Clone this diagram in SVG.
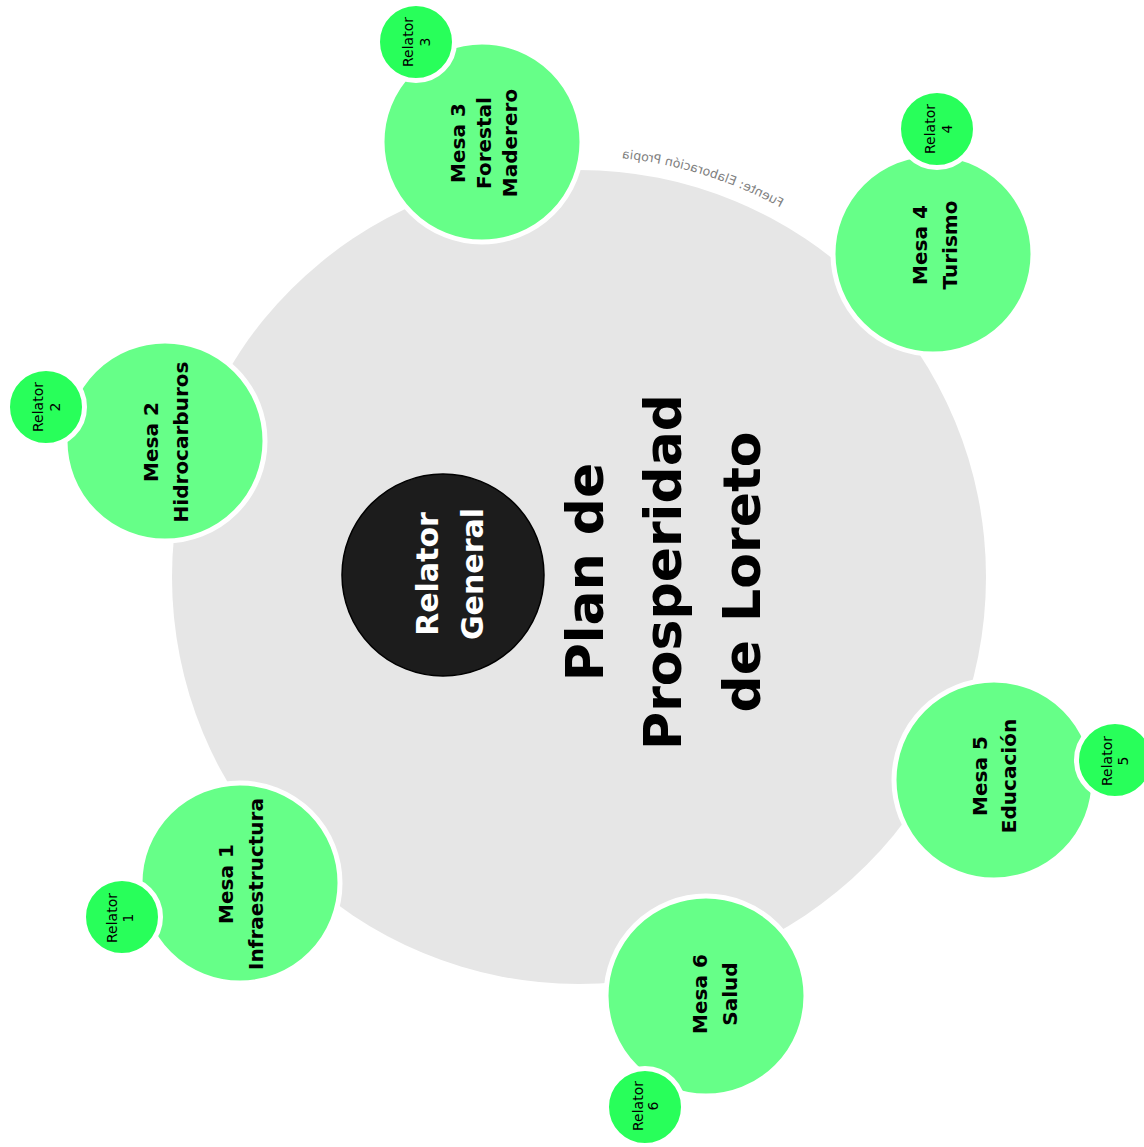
<svg xmlns="http://www.w3.org/2000/svg" width="1144" height="1147" viewBox="0 0 1144 1147">
<style>
.bg{fill:#e6e6e6}
.mesa{fill:#66ff88;stroke:#ffffff;stroke-width:5}
.rel{fill:#28ff5a;stroke:#ffffff;stroke-width:5}
.mt{font-family:"DejaVu Sans",sans-serif;font-weight:bold;font-size:20px;fill:#000;text-anchor:middle}
.rt{font-family:"DejaVu Sans",sans-serif;font-size:14px;fill:#000;text-anchor:middle}
.title{font-family:"DejaVu Sans",sans-serif;font-weight:bold;font-size:52px;fill:#000;text-anchor:middle}
.gt{font-family:"DejaVu Sans",sans-serif;font-weight:bold;font-size:30px;fill:#fff;text-anchor:middle}
.src{font-family:"DejaVu Sans",sans-serif;font-size:12.5px;fill:#808080}
</style>
<defs>
<path id="srcArc" d="M 377.5 207.4 A 421 421 0 0 1 652.1 162.4" fill="none"/>
</defs>
<rect width="1144" height="1147" fill="#ffffff"/>
<g id="plan">
<circle class="bg" cx="579" cy="577" r="407"/>
<text class="title" transform="translate(681,572) rotate(-90)"><tspan x="0" y="-78">Plan de</tspan><tspan x="0" y="0">Prosperidad</tspan><tspan x="0" y="79">de Loreto</tspan></text>
</g>
<g id="fuente" transform="translate(1158,0) scale(-1,1)">
<text class="src"><textPath href="#srcArc">Fuente: Elaboración Propia</textPath></text>
</g>
<g id="connectors"/>
<g id="relator-general">
<circle cx="443" cy="575" r="101" fill="#1c1c1c" stroke="#000" stroke-width="1.5"/>
<text class="gt" transform="translate(443,574) rotate(-90)"><tspan x="0" y="-5">Relator</tspan><tspan x="0" y="40">General</tspan></text>
</g>
<g id="mesa1">
<circle class="mesa" cx="240" cy="883" r="100"/>
<text class="mt" transform="translate(240,884) rotate(-90)"><tspan x="0" y="-7">Mesa 1</tspan><tspan x="0" y="23">Infraestructura</tspan></text>
</g>
<g id="relator1">
<circle class="rel" cx="122" cy="917" r="38.5"/>
<text class="rt" transform="translate(122,918) rotate(-90)"><tspan x="0" y="-5">Relator</tspan><tspan x="0" y="11">1</tspan></text>
</g>
<g id="mesa2">
<circle class="mesa" cx="165" cy="441" r="100"/>
<text class="mt" transform="translate(165,442) rotate(-90)"><tspan x="0" y="-7">Mesa 2</tspan><tspan x="0" y="23">Hidrocarburos</tspan></text>
</g>
<g id="relator2">
<circle class="rel" cx="46" cy="407" r="38.5"/>
<text class="rt" transform="translate(46,407) rotate(-90)"><tspan x="0" y="-3">Relator</tspan><tspan x="0" y="14">2</tspan></text>
</g>
<g id="mesa3">
<circle class="mesa" cx="482" cy="142" r="100"/>
<text class="mt" transform="translate(482,143) rotate(-90)"><tspan x="0" y="-17">Mesa 3</tspan><tspan x="0" y="9">Forestal</tspan><tspan x="0" y="35">Maderero</tspan></text>
</g>
<g id="relator3">
<circle class="rel" cx="416" cy="42" r="38.5"/>
<text class="rt" transform="translate(416,42) rotate(-90)"><tspan x="0" y="-3">Relator</tspan><tspan x="0" y="14">3</tspan></text>
</g>
<g id="mesa4">
<circle class="mesa" cx="933" cy="254" r="100"/>
<text class="mt" transform="translate(933,245) rotate(-90)"><tspan x="0" y="-6">Mesa 4</tspan><tspan x="0" y="24">Turismo</tspan></text>
</g>
<g id="relator4">
<circle class="rel" cx="937" cy="129" r="38.5"/>
<text class="rt" transform="translate(937,129) rotate(-90)"><tspan x="0" y="-2">Relator</tspan><tspan x="0" y="15">4</tspan></text>
</g>
<g id="mesa5">
<circle class="mesa" cx="994" cy="780" r="100"/>
<text class="mt" transform="translate(994,776) rotate(-90)"><tspan x="0" y="-7">Mesa 5</tspan><tspan x="0" y="22">Educación</tspan></text>
</g>
<g id="relator5">
<circle class="rel" cx="1115" cy="760" r="38.5"/>
<text class="rt" transform="translate(1115,761) rotate(-90)"><tspan x="0" y="-3">Relator</tspan><tspan x="0" y="13">5</tspan></text>
</g>
<g id="mesa6">
<circle class="mesa" cx="706" cy="996" r="100"/>
<text class="mt" transform="translate(706,994) rotate(-90)"><tspan x="0" y="1">Mesa 6</tspan><tspan x="0" y="31">Salud</tspan></text>
</g>
<g id="relator6">
<circle class="rel" cx="645" cy="1107" r="38.5"/>
<text class="rt" transform="translate(645,1106) rotate(-90)"><tspan x="0" y="-2">Relator</tspan><tspan x="0" y="13">6</tspan></text>
</g>
</svg>
